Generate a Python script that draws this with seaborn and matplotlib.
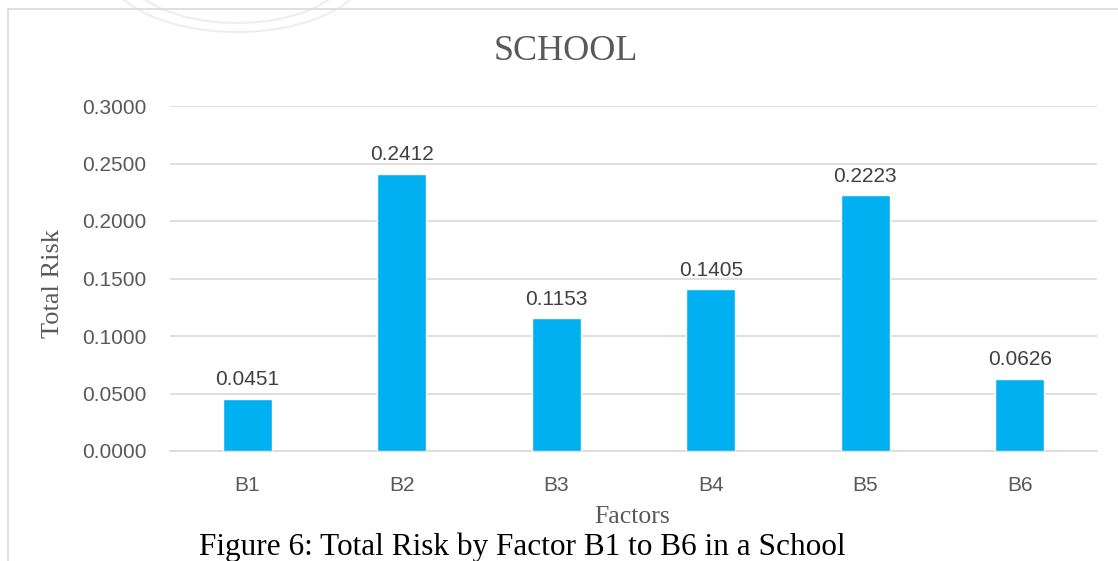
import matplotlib
matplotlib.use("Agg")
import matplotlib.pyplot as plt
import seaborn as sns
import pandas as pd
from matplotlib.patches import Rectangle, Circle

categories = ["B1", "B2", "B3", "B4", "B5", "B6"]
values = [0.0451, 0.2412, 0.1153, 0.1405, 0.2223, 0.0626]
yticks = [0.0, 0.05, 0.10, 0.15, 0.20, 0.25, 0.30]

df = pd.DataFrame({"Factor": categories, "Risk": values})

sns.set_theme(style="white")
W, H = 1118, 561
fig = plt.figure(figsize=(W / 100, H / 100), dpi=100)
fig.patch.set_facecolor("white")

# faint document watermark logo, cut off at the top
for r in (66, 57):
    fig.patches.append(Circle((237 / W, 1 + 34 / H), r / H, transform=fig.transFigure,
                              fill=False, edgecolor="#EEEEEE", linewidth=1.5))

# chart border
fig.patches.append(Rectangle((8 / W, -0.1), 1.2, (1 - 9 / H) + 0.1, transform=fig.transFigure,
                             fill=False, edgecolor="#D9D9D9", linewidth=1.2))

ax = fig.add_axes([170 / W, 1 - 451 / H, (1097 - 170) / W, (451 - 106) / H])
sns.barplot(data=df, x="Factor", y="Risk", color="#00B0F0", width=0.317,
            saturation=1, ax=ax, zorder=3)
ax.set_ylim(0, 0.30)
ax.set_xlim(-0.5, 5.5)
ax.set_yticks(yticks)
ax.set_yticklabels([f"{v:.4f}" for v in yticks])
ax.yaxis.grid(True, color="#D9D9D9", linewidth=1.2, zorder=0)
for s in ["top", "right", "left"]:
    ax.spines[s].set_visible(False)
ax.spines["bottom"].set_color("#D9D9D9")
ax.spines["bottom"].set_linewidth(1.2)
ax.tick_params(axis="both", length=0, labelsize=15, colors="#595959")
ax.tick_params(axis="x", pad=18)
ax.tick_params(axis="y", pad=17)
for lab in ax.get_xticklabels() + ax.get_yticklabels():
    lab.set_family("Liberation Sans")

for i, v in enumerate(values):
    ax.annotate(f"{v:.4f}", (i, v), xytext=(0, 7), textcoords="offset points",
                ha="center", va="bottom", fontsize=15, color="#404040",
                family="Liberation Sans")

ax.set_xlabel("")
ax.set_ylabel("")
fig.text(53 / W, 1 - 283 / H, "Total Risk", rotation=90, ha="center", va="center",
         fontsize=19, color="#595959", family="Liberation Serif")
fig.text(632 / W, 1 - 517 / H, "Factors", ha="center", va="center",
         fontsize=18.5, color="#595959", family="Liberation Serif")
fig.text(566 / W, 1 - 52 / H, "SCHOOL", ha="center", va="center",
         fontsize=26, color="#595959", family="Liberation Serif")
fig.text(522 / W, 1 - 555 / H, "Figure 6: Total Risk by Factor B1 to B6 in a School",
         ha="center", va="baseline", fontsize=22.5, color="black", family="Liberation Serif")

fig.savefig("out.png", dpi=100, facecolor="white")
